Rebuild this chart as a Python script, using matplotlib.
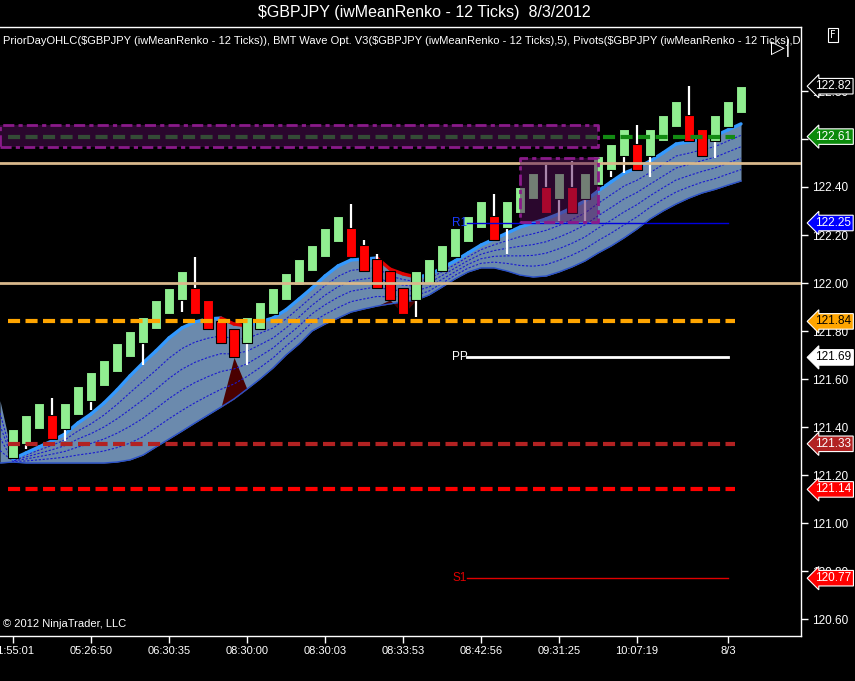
import matplotlib
matplotlib.use('Agg')
import matplotlib.pyplot as plt
import matplotlib.transforms as mtransforms
import numpy as np

plt.rcParams['text.parse_math'] = False
plt.rcParams['font.family'] = ['Liberation Sans Narrow', 'Liberation Sans', 'DejaVu Sans']

# renko bricks (bar index 0..56)
opens = [121.27, 121.33, 121.39, 121.45, 121.39, 121.45, 121.51, 121.57, 121.63, 121.69,
         121.75, 121.81, 121.87, 121.93, 121.98, 121.93, 121.84, 121.81, 121.75, 121.81,
         121.87, 121.93, 121.99, 122.05, 122.11, 122.17, 122.23, 122.16, 122.10, 122.05,
         121.98, 121.93, 122.00, 122.05, 122.11, 122.17, 122.23, 122.28, 122.23, 122.29,
         122.35, 122.40, 122.35, 122.40, 122.35, 122.41, 122.47, 122.53, 122.58, 122.53,
         122.59, 122.65, 122.70, 122.64, 122.59, 122.65, 122.71]
closes = [121.39, 121.45, 121.50, 121.35, 121.50, 121.57, 121.63, 121.68, 121.75, 121.80,
          121.86, 121.93, 121.98, 122.05, 121.87, 121.81, 121.75, 121.69, 121.86, 121.92,
          121.98, 122.04, 122.10, 122.16, 122.23, 122.28, 122.11, 122.05, 121.98, 121.93,
          121.87, 122.05, 122.10, 122.16, 122.23, 122.28, 122.34, 122.18, 122.34, 122.40,
          122.46, 122.29, 122.46, 122.29, 122.46, 122.53, 122.58, 122.64, 122.47, 122.64,
          122.70, 122.76, 122.59, 122.53, 122.70, 122.76, 122.82]
highs = [121.39, 121.45, 121.50, 121.52, 121.50, 121.57, 121.63, 121.68, 121.75, 121.80,
         121.86, 121.93, 121.98, 122.05, 122.11, 121.93, 121.84, 121.81, 121.86, 121.92,
         121.98, 122.04, 122.10, 122.16, 122.23, 122.28, 122.33, 122.18, 122.12, 122.05,
         121.98, 122.05, 122.10, 122.16, 122.23, 122.28, 122.34, 122.37, 122.34, 122.40,
         122.46, 122.49, 122.46, 122.51, 122.46, 122.53, 122.58, 122.64, 122.66, 122.64,
         122.70, 122.76, 122.82, 122.64, 122.70, 122.76, 122.82]
lows = [121.27, 121.31, 121.39, 121.35, 121.34, 121.45, 121.47, 121.57, 121.63, 121.69,
        121.66, 121.81, 121.87, 121.88, 121.87, 121.81, 121.75, 121.69, 121.66, 121.81,
        121.87, 121.93, 121.99, 122.05, 122.11, 122.17, 122.11, 122.05, 121.98, 121.93,
        121.87, 121.86, 122.00, 122.05, 122.11, 122.17, 122.23, 122.18, 122.12, 122.29,
        122.35, 122.29, 122.26, 122.29, 122.26, 122.41, 122.44, 122.46, 122.47, 122.44,
        122.59, 122.65, 122.59, 122.53, 122.52, 122.65, 122.71]

# BMT wave band, bar index -1..56
wave_upper = [121.51, 121.267, 121.292, 121.317, 121.342, 121.371, 121.417, 121.454, 121.50, 121.554,
              121.613, 121.667, 121.717, 121.771, 121.813, 121.838, 121.85, 121.854, 121.829, 121.821,
              121.838, 121.854, 121.888, 121.933, 121.979, 122.029, 122.071, 122.096, 122.10, 122.104,
              122.058, 122.038, 122.025, 122.033, 122.063, 122.092, 122.125, 122.158, 122.183, 122.208,
              122.233, 122.25, 122.267, 122.288, 122.313, 122.342, 122.383, 122.421, 122.458, 122.479,
              122.508, 122.542, 122.579, 122.588, 122.60, 122.613, 122.638, 122.663]
wave_lower = [121.25, 121.254, 121.25, 121.25, 121.25, 121.25, 121.25, 121.25, 121.25, 121.254,
              121.263, 121.283, 121.317, 121.35, 121.383, 121.417, 121.45, 121.483, 121.517, 121.558,
              121.60, 121.646, 121.70, 121.746, 121.80, 121.829, 121.854, 121.879, 121.892, 121.904,
              121.913, 121.921, 121.929, 121.95, 121.983, 122.017, 122.046, 122.063, 122.063, 122.05,
              122.033, 122.025, 122.029, 122.046, 122.067, 122.092, 122.125, 122.154, 122.188, 122.225,
              122.267, 122.30, 122.329, 122.354, 122.375, 122.39, 122.408, 122.425]

# prior day OHLC / pivot levels
prior_solid = [122.50, 122.00]
dashed_levels = [122.61, 121.84, 121.33, 121.14]
dashed_colors = ['#138a13', '#ffa500', '#b22222', '#ff0000']
pivot_names = ['R1', 'PP', 'S1']
pivot_levels = [122.25, 121.69, 120.77]
pivot_colors = ['#0000e0', '#ffffff', '#e00000']
pivot_span = (34.9, 55.0)
dashed_span = (-0.4, 55.5)

# zones (bar from, bar to, price low, price high)
zones = [(-1.0, 45.0, 122.567, 122.658), (39.0, 45.0, 122.254, 122.521)]

tag_values = [122.82, 122.61, 122.25, 121.84, 121.69, 121.33, 121.14, 120.77]
tag_face = ['#000000', '#0a8a0a', '#0000ff', '#ffa500', '#ffffff', '#b22222', '#ff0000', '#ff0000']
tag_text = ['white', 'white', 'white', 'black', 'black', 'white', 'white', 'white']

xtick_pos = [0, 6, 12, 18, 24, 30, 36, 42, 48, 55]
xtick_labels = ['01:55:01', '05:26:50', '06:30:35', '08:30:00', '08:30:03', '08:33:53',
                '08:42:56', '09:31:25', '10:07:19', '8/3']
ytick_vals = [120.60, 120.80, 121.00, 121.20, 121.40, 121.60, 121.80, 122.00, 122.20, 122.40, 122.60, 122.80]

fig = plt.figure(figsize=(8.55, 6.81), dpi=100, facecolor='black')
ax = fig.add_axes([0, 45 / 681, 801 / 855, 609 / 681])
ax.set_facecolor('black')

n = len(opens)
x = np.arange(n)
xw = np.arange(-1, n)
up = np.array(wave_upper)
lo = np.array(wave_lower)

# wave band
ax.fill_between(xw, lo, up, color='#7fa3cc', alpha=0.85, lw=0, zorder=1)
ax.plot(xw, lo, color='#2a50c8', lw=1, zorder=2)
for f in [0.2, 0.4, 0.6, 0.8]:
    ax.plot(xw, up + (lo - up) * f, color='#1a1ad0', lw=0.8, ls=(0, (2, 1.5)), zorder=2)

# dark red shading under falling segments
up_bars = up[1:]
lo_bars = lo[1:]
falling = np.diff(up_bars) < 0
i = 0
while i < len(falling):
    if falling[i]:
        j = i
        while j < len(falling) and falling[j]:
            j += 1
        idx = np.arange(i, j + 1)
        top = [lo_bars[i]] + [closes[k] for k in idx[1:-1]] + [lo_bars[j]]
        ax.fill_between(idx, lo_bars[idx], top, color='#4a0000', lw=0, zorder=1.5)
        i = j
    else:
        i += 1

# wave line, red where falling
for k in range(n - 1):
    col = '#e00000' if falling[k] else '#3399ff'
    ax.plot([k, k + 1], [up_bars[k], up_bars[k + 1]], color=col, lw=2.4,
            solid_capstyle='round', zorder=3)

# renko bricks
o = np.array(opens)
c = np.array(closes)
colors = np.where(c >= o, '#90ee90', '#ff0000')
ax.vlines(x, lows, highs, color='white', lw=1.6, zorder=3.5)
ax.bar(x, c - o, bottom=o, width=0.72, color=colors, edgecolor='black', lw=0.8, zorder=4)

# prior day lines
for lv in prior_solid:
    ax.axhline(lv, color='#d8b88c', lw=2, zorder=4.5)

# dashed levels
for lv, col in zip(dashed_levels, dashed_colors):
    ax.plot(dashed_span, [lv, lv], color=col, lw=3, ls=(0, (2.9, 1.3)), zorder=4.6)

# pivots
for name, lv, col in zip(pivot_names, pivot_levels, pivot_colors):
    ax.plot(pivot_span, [lv, lv], color=col, lw=2 if name == 'PP' else 1, zorder=4.6)
    ax.text(33.8, lv, name, color=col if name != 'R1' else '#1a3cff', fontsize=8.5,
            ha='left', va='center', zorder=5)

# zones
for x0, x1, p0, p1 in zones:
    ax.fill_between([x0, x1], p0, p1, color='#550f5a', alpha=0.5, lw=0, zorder=5)
    ax.plot([x0, x1, x1, x0, x0], [p0, p0, p1, p1, p0], color='#8a1a8a', lw=2,
            ls=(0, (4, 1.5, 1.5, 1.5)), zorder=5.1, clip_on=False)

ax.set_xlim(-1, (801 - 13) / 13)
ax.set_ylim(122 - 353 / 240, 122 + 256 / 240)

# axes styling
ax.spines['left'].set_visible(False)
for s in ['top', 'right', 'bottom']:
    ax.spines[s].set_color('white')
    ax.spines[s].set_linewidth(1)
ax.yaxis.tick_right()
ax.set_yticks(ytick_vals)
ax.set_yticklabels(['%.2f' % v for v in ytick_vals])
ax.set_xticks(xtick_pos)
ax.set_xticklabels(xtick_labels)
ax.tick_params(colors='white', labelsize=8.5, length=5, width=1, pad=3)
ax.tick_params(axis='x', labelsize=8, pad=2)

# price tags on the axis
trans = mtransforms.blended_transform_factory(ax.transAxes, ax.transData)
for v, fc, tc in zip(tag_values, tag_face, tag_text):
    ax.text(1.018, v, '%.2f' % v, transform=trans, color=tc, fontsize=8.5,
            ha='left', va='center', clip_on=False, zorder=10,
            bbox=dict(boxstyle='larrow,pad=0.15', fc=fc, ec='white', lw=0.8))

# header texts
fig.text(0.496, 1 - 13 / 681, '$GBPJPY (iwMeanRenko - 12 Ticks)  8/3/2012',
         color='white', fontsize=11.5, ha='center', va='center')
ax.text(0.004, 0.977,
        'PriorDayOHLC($GBPJPY (iwMeanRenko - 12 Ticks)), BMT Wave Opt. V3($GBPJPY '
        '(iwMeanRenko - 12 Ticks),5), Pivots($GBPJPY (iwMeanRenko - 12 Ticks),D',
        transform=ax.transAxes, color='white', fontsize=8, ha='left', va='center',
        clip_on=True, zorder=10)
ax.text(0.004, 0.012, '© 2012 NinjaTrader, LLC', transform=ax.transAxes,
        color='white', fontsize=8, ha='left', va='bottom', zorder=10)
fig.text(781 / 855, 1 - 48 / 681, '▷|', color='white', fontsize=13,
         ha='center', va='center', family=['DejaVu Sans'])
fig.text(833 / 855, 1 - 35 / 681, 'F', color='white', fontsize=7, ha='center',
         va='center', family=['DejaVu Sans'],
         bbox=dict(boxstyle='square,pad=0.2', fc='black', ec='white', lw=0.8))

fig.savefig('out.png', dpi=100, facecolor='black')
